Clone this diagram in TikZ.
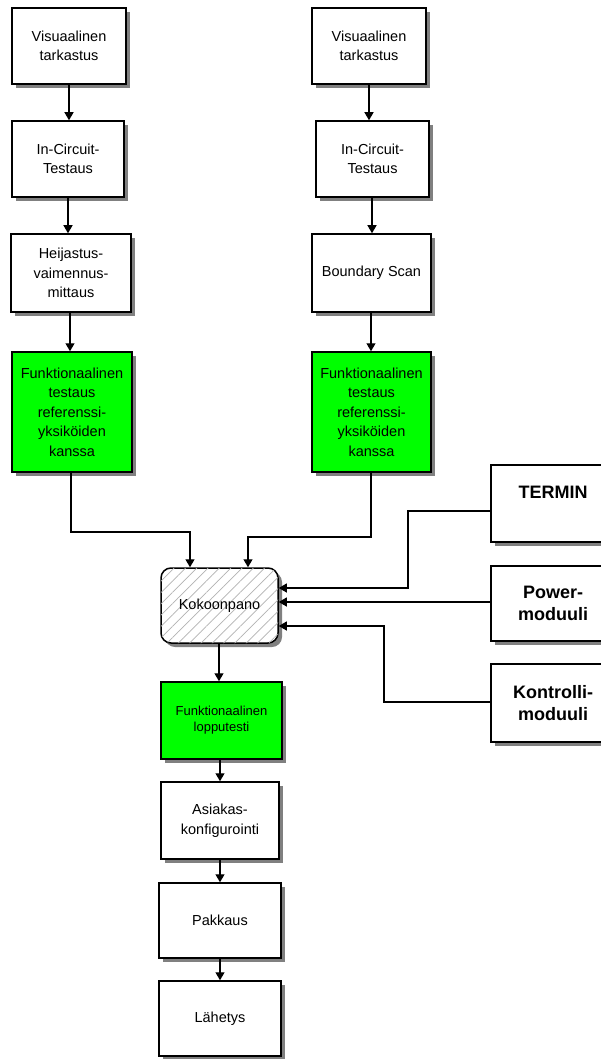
\documentclass[tikz,border=0pt]{standalone}
\usepackage{fontspec}
\setmainfont{Liberation Sans}
\usetikzlibrary{arrows.meta,patterns.meta}
\definecolor{shadowgray}{RGB}{128,128,128}
\tikzset{
  box/.style={draw=black, line width=1.5pt, fill=white, align=center, inner sep=0pt,
    font=\fontsize{14.5}{19.5}\selectfont},
  gbox/.style={box, fill=green},
  bbox/.style={box, font=\bfseries\fontsize{18}{22}\selectfont},
  hatchbox/.style={box, rounded corners=10pt,
    postaction={pattern={Lines[angle=45,distance=8pt,line width=0.7pt]}, pattern color=black!30}},
  shadowfill/.style={draw=none, fill=shadowgray},
  arr/.style={line width=1.3pt, -{Triangle[width=9pt,length=8pt]}},
  tarr/.style={line width=1.1pt, -{Triangle[width=9pt,length=8pt]}},
}
\begin{document}
\begin{tikzpicture}[x=1pt,y=-1pt]
\useasboundingbox (0,0) rectangle (600,1059);
% shadows (offset 4px right and down)
\path[shadowfill] (16,12) rectangle (130,88);
\path[shadowfill] (16,125) rectangle (128,201);
\path[shadowfill] (15,238) rectangle (135,316);
\path[shadowfill] (16,356) rectangle (136,476);
\path[shadowfill] (316,12) rectangle (430,88);
\path[shadowfill] (320,125) rectangle (433,201);
\path[shadowfill] (316,238) rectangle (435,316);
\path[shadowfill] (316,356) rectangle (435,476);
\path[shadowfill, rounded corners=10pt] (165,572) rectangle (282,647);
\path[shadowfill] (165,686) rectangle (286,763);
\path[shadowfill] (165,786) rectangle (283,863);
\path[shadowfill] (163,887) rectangle (285,962);
\path[shadowfill] (163,985) rectangle (285,1060);
\path[shadowfill] (495,469) rectangle (620,546);
\path[shadowfill] (495,570) rectangle (620,645);
\path[shadowfill] (495,668) rectangle (620,746);
% left column
\node[box, minimum width=114pt, minimum height=76pt] (L1) at (69,46) {Visuaalinen\\tarkastus};
\node[box, minimum width=112pt, minimum height=76pt] (L2) at (68,159) {In-Circuit-\\Testaus};
\node[box, minimum width=120pt, minimum height=78pt] (L3) at (71,273) {Heijastus-\\vaimennus-\\mittaus};
\node[gbox, minimum width=120pt, minimum height=120pt] (LG) at (72,412) {Funktionaalinen\\testaus\\referenssi-\\yksiköiden\\kanssa};
% right column
\node[box, minimum width=114pt, minimum height=76pt] (R1) at (369,46) {Visuaalinen\\tarkastus};
\node[box, minimum width=113pt, minimum height=76pt] (R2) at (372.5,159) {In-Circuit-\\Testaus};
\node[box, minimum width=119pt, minimum height=78pt] (R3) at (371.5,273) {Boundary Scan};
\node[gbox, minimum width=119pt, minimum height=120pt] (RG) at (371.5,412) {Funktionaalinen\\testaus\\referenssi-\\yksiköiden\\kanssa};
% assembly
\node[hatchbox, minimum width=117pt, minimum height=75pt] (K) at (219.5,605.5) {Kokoonpano};
\node[gbox, minimum width=121pt, minimum height=77pt, font=\fontsize{13}{16}\selectfont] (G3) at (221.5,720.5) {Funktionaalinen\\lopputesti};
\node[box, minimum width=118pt, minimum height=77pt] (A) at (220,820.5) {Asiakas-\\konfigurointi};
\node[box, minimum width=122pt, minimum height=75pt] (P) at (220,920.5) {Pakkaus};
\node[box, minimum width=122pt, minimum height=75pt] (H) at (220,1018.5) {Lähetys};
% modules
\node[bbox, minimum width=124pt, minimum height=77pt] (T) at (553,503.5) {TERMIN\\\mbox{}};
\node[bbox, minimum width=124pt, minimum height=75pt] (PM) at (553,603.5) {Power-\\moduuli};
\node[bbox, minimum width=124pt, minimum height=78pt] (CM) at (553,703) {Kontrolli-\\moduuli};
% arrows
\draw[arr] (L1.south -| 69,0) -- (L2.north -| 69,0);
\draw[arr] (L2.south -| 68,0) -- (L3.north -| 68,0);
\draw[arr] (L3.south -| 70,0) -- (LG.north -| 70,0);
\draw[arr] (R1.south -| 369,0) -- (R2.north -| 369,0);
\draw[arr] (R2.south -| 372,0) -- (R3.north -| 372,0);
\draw[arr] (R3.south -| 371,0) -- (RG.north -| 371,0);
\draw[arr] (LG.south -| 71,0) |- (190,532) -- (K.north -| 190,0);
\draw[arr] (RG.south -| 371,0) |- (248,537) -- (K.north -| 248,0);
\draw[tarr] (T.west |- 0,511) -| (408,588) -- (K.east |- 0,588);
\draw[tarr] (PM.west |- 0,602) -- (K.east |- 0,602);
\draw[tarr] (CM.west |- 0,702) -| (384,626) -- (K.east |- 0,626);
\draw[arr] (K.south -| 219,0) -- (G3.north -| 219,0);
\draw[arr] (G3.south -| 220,0) -- (A.north -| 220,0);
\draw[arr] (A.south -| 220,0) -- (P.north -| 220,0);
\draw[arr] (P.south -| 220,0) -- (H.north -| 220,0);
\end{tikzpicture}
\end{document}
